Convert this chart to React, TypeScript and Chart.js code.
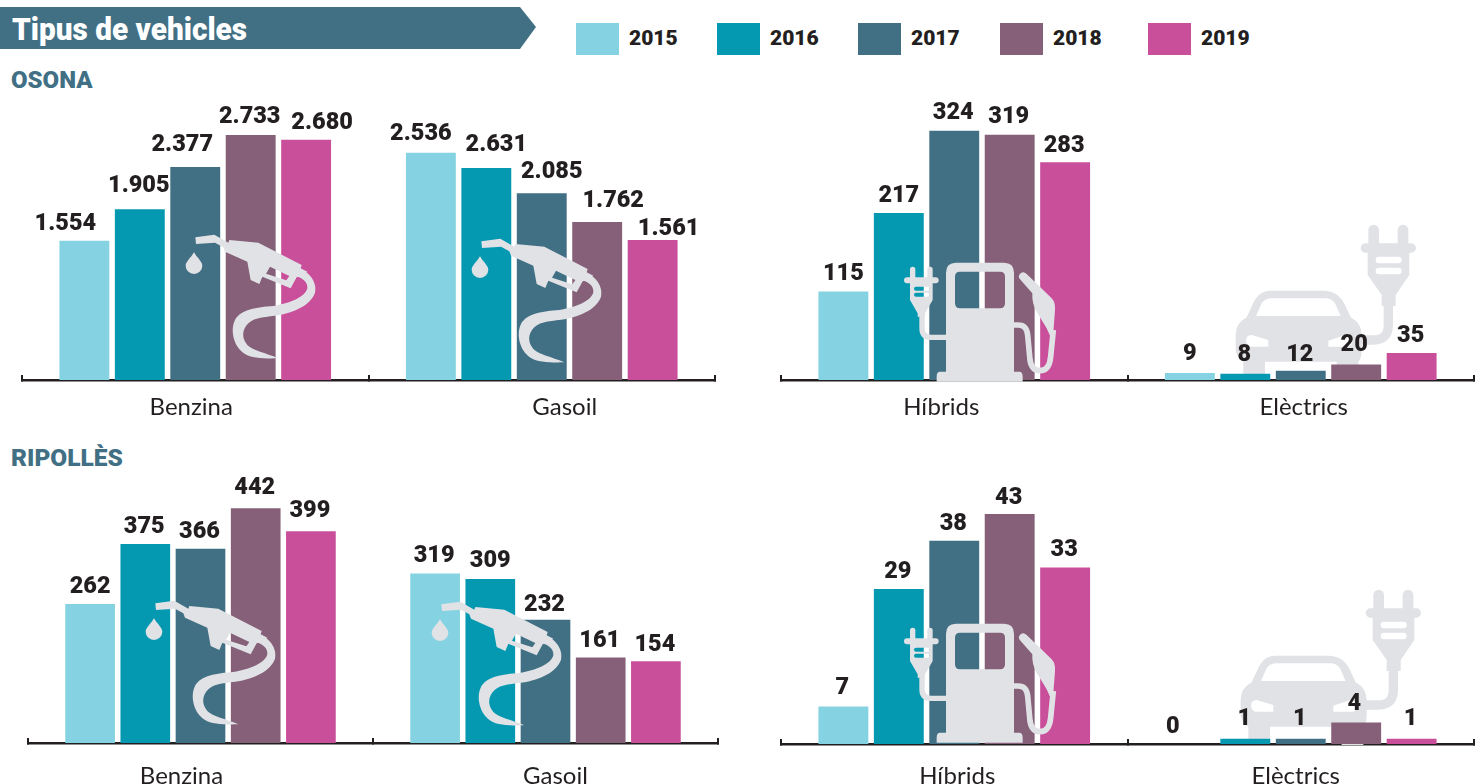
import React, { useEffect, useRef } from "react";
import { Chart, registerables } from "chart.js";

Chart.register(...registerables);

const years = ["2015", "2016", "2017", "2018", "2019"];
const yearColors = ["#85D3E2", "#0499B1", "#417085", "#856078", "#C94F9B"];
const legendSwatchX = [576, 717, 858, 1000, 1148];

const osonaBenzina = [1554, 1905, 2377, 2733, 2680];
// The 2016 gasoil bar is drawn shorter than its printed 2.631 in the source.
const osonaGasoil = [2536, 2366, 2085, 1762, 1561];
const osonaGasoilLabels = ["2.536", "2.631", "2.085", "1.762", "1.561"];
const osonaHibrids = [115, 217, 324, 319, 283];
const osonaElectrics = [9, 8, 12, 20, 35];
const ripollesBenzina = [262, 375, 366, 442, 399];
const ripollesGasoil = [319, 309, 232, 161, 154];
const ripollesHibrids = [7, 29, 38, 43, 33];
const ripollesElectrics = [0, 1, 1, 4, 1];

const ICON_GREY = "#E0E2E6";
const INK = "#231F20";
const SLATE = "#417085";
const HEAVY = 'Roboto, "Open Sans", sans-serif';

const NOZZLE = "M76 52 L133 44 L175 68 L178 60 L265 68 L395 135 L392 145 L412 155 L380 172 L362 205 L277 170 L268 192 L242 180 L232 125 L165 95 L160 82 L135 68 L78 72 Z M300 140 L288 161 L349 181 L358 168 Z";
const NOZZLE_HOSE = "M400 150 C430 170 440 195 435 218 C420 258 370 276 330 285 C290 292 255 290 235 310 C215 330 215 355 232 375 C250 392 285 398 325 415 C285 416 245 415 225 402 C190 380 180 330 195 300 C212 268 260 262 310 258 C360 250 405 232 412 205 C414 185 395 172 375 168 Z";
const DROP = "M72 97 C80 112 97 125 97 137 A25 25 0 0 1 47 137 C47 125 64 112 72 97 Z";

const PUMP = "M198 38 H342 Q372 38 372 68 V365 H388 Q398 365 398 380 V395 H140 V380 Q140 365 150 365 H168 V68 Q168 38 198 38 Z M210 65 Q195 65 195 80 V160 Q195 175 210 175 H330 Q345 175 345 160 V80 Q345 65 330 65 Z";
const PUMP_PLUG = "M60 58 a8 8 0 0 1 16 0 V82 H112 V58 a8 8 0 0 1 16 0 V82 H137 a9 9 0 0 1 0 18 H128 V150 L105 190 V200 H83 V190 L60 150 V100 H51 a9 9 0 0 1 0 -18 H60 Z M78 110 a6 6 0 0 0 0 12 H112 a6 6 0 0 0 0 -12 Z M78 128 a6 6 0 0 0 0 12 H112 a6 6 0 0 0 0 -12 Z";
const PUMP_CORD = "M96 198 V235 Q96 262 122 262 H170";
const PUMP_HOSE = "M372 225 H385 Q410 225 413 255 L420 330 Q425 362 450 362 Q478 362 482 320 L490 240";
const PUMP_NOZZLE = "M390 88 Q382 78 392 70 Q400 62 410 72 L485 145 Q497 158 495 180 L488 275 L470 235 L440 185 Q425 160 427 130 Z";

const CAR = "M150 242 H310 Q355 242 375 285 L392 322 Q425 340 425 375 V420 Q425 445 415 455 V510 H350 V455 H135 V495 H70 V455 Q47 440 47 415 V375 Q47 340 80 322 L97 285 Q115 242 150 242 Z M108 318 H362 L345 280 Q335 265 315 265 H155 Q135 265 125 280 Z M95 375 L145 390 V410 H90 Q78 405 78 390 Q80 375 95 375 Z M375 375 L325 392 V410 H385 Q398 405 398 390 Q395 375 375 375 Z";
const CAR_PLUG = "M445 60 a16 16 0 0 1 32 0 V100 H533 V60 a16 16 0 0 1 32 0 V100 H574 a14 14 0 0 1 0 28 H568 V195 L527 255 V288 H485 V255 L443 195 V128 H436 a14 14 0 0 1 0 -28 H445 Z M477 140 a10 10 0 0 0 0 20 H535 a10 10 0 0 0 0 -20 Z M477 173 a10 10 0 0 0 0 20 H535 a10 10 0 0 0 0 -20 Z";
const CAR_WIRE = "M505 285 V345 Q505 390 460 390 H420";

function drawIcon(ctx, x, y, fills, strokes) {
  ctx.save();
  ctx.translate(x, y);
  ctx.scale(1 / 3, 1 / 3);
  ctx.fillStyle = ICON_GREY;
  ctx.strokeStyle = ICON_GREY;
  ctx.lineCap = "butt";
  strokes.forEach(([d, w]) => {
    ctx.lineWidth = w;
    ctx.stroke(new Path2D(d));
  });
  fills.forEach((d) => ctx.fill(new Path2D(d), "evenodd"));
  ctx.restore();
}

const nozzleIcon = (ctx, x, y) => drawIcon(ctx, x, y, [NOZZLE, NOZZLE_HOSE, DROP], []);
const pumpIcon = (ctx, x, y) =>
  drawIcon(ctx, x, y, [PUMP, PUMP_PLUG, PUMP_NOZZLE], [[PUMP_CORD, 16], [PUMP_HOSE, 17]]);
const carIcon = (ctx, x, y) => drawIcon(ctx, x, y, [CAR, CAR_PLUG], [[CAR_WIRE, 28]]);

const fmt = (n) => String(n).replace(/\B(?=(\d{3})+$)/g, ".");

const panels = [
  {
    left: 0, top: 95, width: 730, height: 330, plotLeft: 22, plotRight: 715, axisY: 380, yMax: 3180,
    categories: ["Benzina", "Gasoil"], series: [osonaBenzina, osonaGasoil],
    labels: [osonaBenzina.map(fmt), osonaGasoilLabels],
    labelDx: [[-19, -1, -13, -1, 16], [-10, 10, 10, 16, 16]],
    labelDy: [[0, 6, 5, 1, 0], [2, 6, 4, 4, -6]],
    catDx: [-4, 23], catBaseline: 415,
    above: [[nozzleIcon, 170, 220], [nozzleIcon, 456, 224]], below: [],
  },
  {
    left: 765, top: 95, width: 710, height: 330, plotLeft: 781, plotRight: 1474, axisY: 380, yMax: 370.6,
    categories: ["Híbrids", "Elèctrics"], series: [osonaHibrids, osonaElectrics],
    labels: [osonaHibrids.map(fmt), osonaElectrics.map(fmt)],
    labelDx: [[0, 0, -1, -1, -1], [0, -1, -1, -2, -1]],
    labelDy: [[0, 0, 1, 1, -1], [2, 2, -1, 2, 0]],
    catDx: [-13, 3], catBaseline: 415,
    above: [[pumpIcon, 890, 250]], below: [[carIcon, 1220, 210]],
  },
  {
    left: 0, top: 460, width: 735, height: 324, plotLeft: 28, plotRight: 718, axisY: 743, yMax: 533,
    categories: ["Benzina", "Gasoil"], series: [ripollesBenzina, ripollesGasoil],
    labels: [ripollesBenzina.map(fmt), ripollesGasoil.map(fmt)],
    labelDx: [[0, -1, -1, -1, -1], [-1, 0, -1, -1, -1]],
    labelDy: [[0, 0, 0, 3, 3], [0, 1, -2, -1, -1]],
    catDx: [-19, 10], catBaseline: 784,
    above: [[nozzleIcon, 130, 586], [nozzleIcon, 416, 587]], below: [],
  },
  {
    left: 765, top: 460, width: 710, height: 324, plotLeft: 781, plotRight: 1474, axisY: 744, yMax: 53.1,
    categories: ["Híbrids", "Elèctrics"], series: [ripollesHibrids, ripollesElectrics],
    labels: [ripollesHibrids.map(fmt), ripollesElectrics.map(fmt)],
    labelDx: [[-1, -1, -1, -1, -1], [-17, -1, -1, -2, -1]],
    labelDy: [[1, 0, 0, -1, 0], [0, 3, 3, 1, 3]],
    catDx: [3, -5], catBaseline: 784,
    above: [[pumpIcon, 890, 611]], below: [[carIcon, 1225, 575]],
  },
];

function makePlugin(p) {
  return {
    id: "panelDecor",
    beforeDatasetsDraw(chart) {
      p.below.forEach(([icon, x, y]) => icon(chart.ctx, x - p.left, y - p.top));
    },
    afterDatasetsDraw(chart) {
      const ctx = chart.ctx;
      p.above.forEach(([icon, x, y]) => icon(ctx, x - p.left, y - p.top));
      ctx.save();
      ctx.fillStyle = INK;
      ctx.textAlign = "center";
      ctx.textBaseline = "middle";
      ctx.font = `900 23.5px ${HEAVY}`;
      chart.data.datasets.forEach((ds, i) => {
        const meta = chart.getDatasetMeta(i);
        meta.data.forEach((bar, c) => {
          ctx.fillText(p.labels[c][i], bar.x + p.labelDx[c][i], bar.y - 17 - p.labelDy[c][i]);
        });
      });
      ctx.font = '400 24px Lato, "Noto Sans", sans-serif';
      ctx.textBaseline = "alphabetic";
      const xs = chart.scales.x;
      p.categories.forEach((name, c) => {
        ctx.fillText(name, xs.getPixelForTick(c) + p.catDx[c], p.catBaseline - p.top);
      });
      ctx.restore();
    },
  };
}

function Panel({ p }) {
  const ref = useRef(null);
  useEffect(() => {
    const chart = new Chart(ref.current, {
      type: "bar",
      data: {
        labels: p.categories,
        datasets: years.map((y, i) => ({
          label: y,
          data: p.series.map((s) => s[i]),
          backgroundColor: yearColors[i],
          borderWidth: 0,
          categoryPercentage: 0.8,
          barPercentage: 0.9,
        })),
      },
      options: {
        responsive: false,
        animation: false,
        events: [],
        layout: {
          padding: {
            left: p.plotLeft - p.left,
            right: p.left + p.width - p.plotRight,
            top: 0,
            bottom: p.top + p.height - p.axisY,
          },
        },
        plugins: { legend: { display: false }, tooltip: { enabled: false } },
        scales: {
          x: {
            offset: true,
            ticks: { display: false },
            grid: {
              offset: true,
              drawOnChartArea: false,
              drawTicks: true,
              tickLength: -5,
              color: INK,
              lineWidth: 2,
            },
            border: { display: true, color: INK, width: 2.5 },
          },
          y: { display: false, min: 0, max: p.yMax },
        },
      },
      plugins: [makePlugin(p)],
    });
    return () => chart.destroy();
  }, []);
  return (
    <canvas
      ref={ref}
      width={p.width}
      height={p.height}
      style={{ position: "absolute", left: p.left, top: p.top, width: p.width, height: p.height }}
    />
  );
}

const font = (s) => `900 ${s}px ${HEAVY}`;

export default function App() {
  return (
    <div style={{ position: "fixed", left: 0, top: 0, width: 1475, height: 784, overflow: "hidden", background: "#fff" }}>
      <div
        style={{
          position: "absolute", left: 0, top: 7, width: 536, height: 42, background: SLATE,
          clipPath: "polygon(0 0, 520px 0, 536px 20px, 520px 42px, 0 42px)",
        }}
      />
      <div
        style={{
          position: "absolute", left: 12, top: 11, color: "#fff", font: font(31), lineHeight: "38px",
          transform: "scaleX(0.96)", transformOrigin: "left center", whiteSpace: "nowrap",
        }}
      >
        Tipus de vehicles
      </div>
      {years.map((y, i) => (
        <React.Fragment key={y}>
          <div style={{ position: "absolute", left: legendSwatchX[i], top: 23, width: 43, height: 32, background: yearColors[i] }} />
          <div style={{ position: "absolute", left: legendSwatchX[i] + 53, top: 26, lineHeight: "28px", font: font(21), color: INK }}>{y}</div>
        </React.Fragment>
      ))}
      <div style={{ position: "absolute", left: 11, top: 66, lineHeight: "28px", font: font(24), color: SLATE }}>OSONA</div>
      <div style={{ position: "absolute", left: 11, top: 443, lineHeight: "28px", font: font(24.5), color: SLATE }}>RIPOLLÈS</div>
      {panels.map((p, i) => (
        <Panel key={i} p={p} />
      ))}
    </div>
  );
}
